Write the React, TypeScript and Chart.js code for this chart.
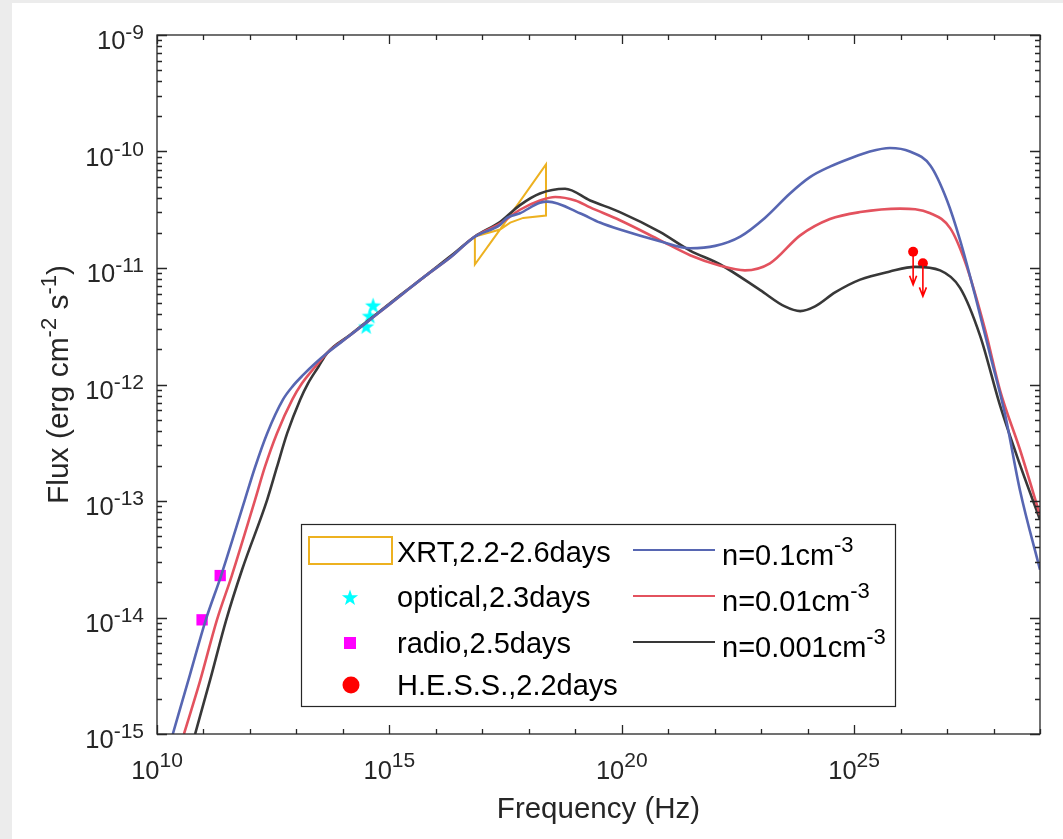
import React, { useEffect, useRef } from 'react';
import { Chart, registerables } from 'chart.js';
Chart.register(...registerables);

// ---- data (log10 values) ----
const blueLogNu = [10.34, 10.71, 11.05, 11.38, 11.89, 12.11, 12.37, 12.71, 12.93, 13.14, 13.40, 13.66, 14.15, 14.69, 15.23, 15.77, 16.31, 16.84, 17.38, 17.53, 17.81, 18.24, 18.41, 19.10, 19.53, 19.96, 20.82, 21.47, 22.01, 22.55, 23.08, 23.62, 24.05, 24.48, 24.91, 25.34, 25.77, 26.20, 26.64, 27.00, 27.28, 27.60, 27.93, 28.25, 28.57, 29.0];
const blueLogF = [-15.0, -14.49, -14.02, -13.64, -12.99, -12.71, -12.42, -12.13, -12.01, -11.92, -11.82, -11.73, -11.58, -11.41, -11.24, -11.07, -10.91, -10.73, -10.63, -10.57, -10.53, -10.44, -10.43, -10.53, -10.61, -10.67, -10.77, -10.83, -10.81, -10.73, -10.57, -10.36, -10.22, -10.13, -10.06, -10.0, -9.97, -10.0, -10.12, -10.42, -10.76, -11.23, -11.75, -12.26, -12.91, -13.59];

const redLogNu = [10.58, 10.93, 11.29, 11.61, 12.11, 12.32, 12.58, 12.91, 13.12, 13.40, 13.66, 14.15, 14.69, 15.23, 15.77, 16.31, 16.84, 17.38, 17.81, 18.24, 18.57, 19.0, 19.32, 19.96, 20.82, 21.47, 22.12, 22.65, 23.19, 23.84, 24.48, 25.13, 25.99, 26.64, 27.07, 27.39, 27.82, 28.14, 28.57, 29.0];
const redLogF = [-15.0, -14.54, -14.02, -13.64, -12.99, -12.71, -12.42, -12.13, -11.99, -11.85, -11.73, -11.58, -11.41, -11.24, -11.07, -10.91, -10.73, -10.62, -10.50, -10.42, -10.39, -10.42, -10.48, -10.59, -10.76, -10.89, -10.98, -11.02, -10.96, -10.72, -10.58, -10.52, -10.49, -10.53, -10.66, -10.95, -11.53, -12.05, -12.56, -13.12];

const blackLogNu = [10.82, 11.14, 11.49, 11.83, 12.37, 12.58, 12.80, 13.08, 13.25, 13.47, 13.66, 14.15, 14.69, 15.23, 15.77, 16.31, 16.84, 17.38, 17.81, 18.24, 18.78, 19.32, 19.96, 20.82, 21.47, 22.12, 22.98, 23.51, 23.84, 24.16, 24.59, 25.13, 25.77, 26.31, 26.85, 27.28, 27.71, 28.14, 28.57, 29.0];
const blackLogF = [-15.0, -14.54, -14.02, -13.59, -12.99, -12.71, -12.42, -12.13, -11.99, -11.85, -11.73, -11.575, -11.405, -11.235, -11.07, -10.90, -10.73, -10.605, -10.46, -10.36, -10.32, -10.42, -10.52, -10.69, -10.85, -10.97, -11.19, -11.33, -11.37, -11.33, -11.21, -11.10, -11.03, -10.99, -11.02, -11.17, -11.58, -12.18, -12.69, -13.16];

// XRT butterfly outline (closed polygon)
const xrtLogNu = [16.84, 17.38, 18.37, 18.37, 17.88, 17.60, 17.38, 16.84, 16.84];
const xrtLogF = [-10.73, -10.67, -10.11, -10.55, -10.57, -10.61, -10.67, -10.97, -10.73];

const opticalLogNu = [14.65, 14.58, 14.50];
const opticalLogF = [-11.32, -11.41, -11.50];

const radioLogNu = [10.97, 11.36];
const radioLogF = [-14.02, -13.64];

const hessLogNu = [26.27, 26.48];
const hessLogF = [-10.86, -10.96];

const xTickExps = [10, 15, 20, 25];
const yTickExps = [-9, -10, -11, -12, -13, -14, -15];
const xRange = [10, 29];
const yRange = [-15, -9];

const curveLabels = ['n=0.1cm', 'n=0.01cm', 'n=0.001cm'];
const curveExp = '-3';
const pointLabels = ['XRT,2.2-2.6days', 'optical,2.3days', 'radio,2.5days', 'H.E.S.S.,2.2days'];
const xTitle = 'Frequency (Hz)';

// ---- styles ----
const FONT = '"Liberation Sans", Arial, Helvetica, sans-serif';
const BLUE = '#5766b2';
const RED = '#e3525e';
const BLACK = '#383838';
const ORANGE = '#edb120';
const CYAN = '#00ffff';
const MAGENTA = '#ff00ff';
const HESSRED = '#ff0000';
const AXIS = '#262626';

const toPts = (nu: number[], f: number[]) => nu.map((v, i) => ({ x: Math.pow(10, v), y: Math.pow(10, f[i]) }));

function starPath(ctx: CanvasRenderingContext2D, cx: number, cy: number, R: number) {
  const r = R * 0.4;
  ctx.beginPath();
  for (let i = 0; i < 10; i++) {
    const rad = i % 2 === 0 ? R : r;
    const a = -Math.PI / 2 + (i * Math.PI) / 5;
    const px = cx + rad * Math.cos(a);
    const py = cy + rad * Math.sin(a);
    if (i === 0) ctx.moveTo(px, py);
    else ctx.lineTo(px, py);
  }
  ctx.closePath();
}

function makeStar(R: number, color: string) {
  const c = document.createElement('canvas');
  const s = Math.ceil(R * 2 + 2);
  c.width = s;
  c.height = s;
  const g = c.getContext('2d')!;
  starPath(g, s / 2, s / 2 + R * 0.1, R);
  g.fillStyle = color;
  g.fill();
  return c;
}

function drawPow(ctx: CanvasRenderingContext2D, base: string, exp: string, x: number, y: number, align: 'left' | 'center' | 'right', bs: number, es: number, raise: number) {
  ctx.font = `${bs}px ${FONT}`;
  const bw = ctx.measureText(base).width;
  ctx.font = `${es}px ${FONT}`;
  const ew = ctx.measureText(exp).width;
  const total = bw + ew;
  const left = align === 'center' ? x - total / 2 : align === 'right' ? x - total : x;
  ctx.textAlign = 'left';
  ctx.textBaseline = 'alphabetic';
  ctx.font = `${bs}px ${FONT}`;
  ctx.fillText(base, left, y);
  ctx.font = `${es}px ${FONT}`;
  ctx.fillText(exp, left + bw, y - raise);
}

const decorPlugin = {
  id: 'decor',
  beforeDraw(chart: any) {
    const ctx: CanvasRenderingContext2D = chart.ctx;
    ctx.save();
    ctx.fillStyle = '#ececec';
    ctx.fillRect(0, 0, chart.width, chart.height);
    ctx.fillStyle = '#ffffff';
    ctx.fillRect(12, 3, chart.width - 12, chart.height - 3);
    ctx.restore();
  },
  afterDatasetsDraw(chart: any) {
    const ctx: CanvasRenderingContext2D = chart.ctx;
    const xs = chart.scales.x;
    const ys = chart.scales.y;
    // H.E.S.S. upper-limit arrows
    ctx.save();
    ctx.strokeStyle = HESSRED;
    ctx.lineWidth = 1.6;
    hessLogNu.forEach((v, i) => {
      const px = xs.getPixelForValue(Math.pow(10, v));
      const py = ys.getPixelForValue(Math.pow(10, hessLogF[i]));
      const tip = py + 33;
      ctx.beginPath();
      ctx.moveTo(px, py);
      ctx.lineTo(px, tip);
      ctx.moveTo(px - 3.5, tip - 9);
      ctx.lineTo(px, tip);
      ctx.lineTo(px + 3.5, tip - 9);
      ctx.stroke();
    });
    ctx.restore();
  },
  afterDraw(chart: any) {
    const ctx: CanvasRenderingContext2D = chart.ctx;
    const a = chart.chartArea;
    const xs = chart.scales.x;
    const ys = chart.scales.y;
    ctx.save();
    // axes box
    ctx.strokeStyle = AXIS;
    ctx.lineWidth = 1.3;
    ctx.strokeRect(a.left, a.top, a.right - a.left, a.bottom - a.top);
    ctx.beginPath();
    for (let e = xRange[0]; e <= xRange[1]; e++) {
      const px = Math.round(xs.getPixelForValue(Math.pow(10, e))) + 0.5;
      const len = e % 5 === 0 ? 9 : 5;
      ctx.moveTo(px, a.bottom);
      ctx.lineTo(px, a.bottom - len);
      ctx.moveTo(px, a.top);
      ctx.lineTo(px, a.top + len);
    }
    for (let e = yRange[0]; e <= yRange[1]; e++) {
      for (let k = 1; k <= 9; k++) {
        if (e === yRange[1] && k > 1) break;
        const py = Math.round(ys.getPixelForValue(k * Math.pow(10, e))) + 0.5;
        const len = k === 1 ? 10 : 5;
        ctx.moveTo(a.left, py);
        ctx.lineTo(a.left + len, py);
        ctx.moveTo(a.right, py);
        ctx.lineTo(a.right - len, py);
      }
    }
    ctx.stroke();

    // tick labels
    ctx.fillStyle = '#262626';
    xTickExps.forEach((e) => {
      const px = xs.getPixelForValue(Math.pow(10, e));
      drawPow(ctx, '10', String(e), px, a.bottom + 45, 'center', 25.5, 21, 12);
    });
    yTickExps.forEach((e) => {
      const py = ys.getPixelForValue(Math.pow(10, e));
      drawPow(ctx, '10', String(e), a.left - 13, py + 14, 'right', 25.5, 21, 10);
    });

    // axis titles
    ctx.font = `29.5px ${FONT}`;
    ctx.textAlign = 'center';
    ctx.textBaseline = 'alphabetic';
    ctx.fillText(xTitle, (a.left + a.right) / 2, 818);

    const segs: [string, boolean][] = [['Flux (erg cm', false], ['-2', true], [' s', false], ['-1', true], [')', false]];
    const bs = 30, es = 22;
    let total = 0;
    const widths = segs.map(([t, sup]) => {
      ctx.font = `${sup ? es : bs}px ${FONT}`;
      const w = ctx.measureText(t).width;
      total += w;
      return w;
    });
    ctx.save();
    ctx.translate(68, (a.top + a.bottom) / 2);
    ctx.rotate(-Math.PI / 2);
    ctx.textAlign = 'left';
    let cx = -total / 2;
    segs.forEach(([t, sup], i) => {
      ctx.font = `${sup ? es : bs}px ${FONT}`;
      ctx.fillText(t, cx, sup ? -12 : 0);
      cx += widths[i];
    });
    ctx.restore();

    // legend
    const L = { x1: 301, y1: 524, x2: 895, y2: 706 };
    ctx.fillStyle = '#ffffff';
    ctx.fillRect(L.x1, L.y1, L.x2 - L.x1, L.y2 - L.y1);
    ctx.strokeStyle = AXIS;
    ctx.lineWidth = 1.2;
    ctx.strokeRect(L.x1 + 0.5, L.y1 + 0.5, L.x2 - L.x1, L.y2 - L.y1);

    // col 1 icons
    ctx.strokeStyle = ORANGE;
    ctx.lineWidth = 2;
    ctx.strokeRect(309, 537, 83, 27);
    starPath(ctx, 350, 598, 8.5);
    ctx.fillStyle = CYAN;
    ctx.fill();
    ctx.fillStyle = MAGENTA;
    ctx.fillRect(344, 637, 12, 12);
    ctx.fillStyle = HESSRED;
    ctx.beginPath();
    ctx.arc(351, 685, 8.5, 0, Math.PI * 2);
    ctx.fill();

    ctx.fillStyle = '#000000';
    ctx.font = `29px ${FONT}`;
    ctx.textAlign = 'left';
    const col1Base = [562, 607, 653, 695];
    pointLabels.forEach((t, i) => ctx.fillText(t, 397, col1Base[i]));

    // col 2
    const colColors = [BLUE, RED, BLACK];
    const lineY = [550, 596, 642];
    const col2Base = [565, 611, 657];
    colColors.forEach((c, i) => {
      ctx.strokeStyle = c;
      ctx.lineWidth = 2;
      ctx.beginPath();
      ctx.moveTo(633, lineY[i]);
      ctx.lineTo(715, lineY[i]);
      ctx.stroke();
      ctx.fillStyle = '#000000';
      drawPow(ctx, curveLabels[i], curveExp, 722, col2Base[i], 'left', 29, 22, 13);
    });
    ctx.restore();
  },
};

export default function App() {
  const ref = useRef<HTMLCanvasElement>(null);
  useEffect(() => {
    document.body.style.margin = '0';
    const starImg = makeStar(8.5, CYAN);
    const lineDs = (label: string, nu: number[], f: number[], color: string) => ({
      label,
      data: toPts(nu, f),
      showLine: true,
      borderColor: color,
      borderWidth: 2.6,
      pointRadius: 0,
      cubicInterpolationMode: 'monotone' as const,
    });
    const chart = new Chart(ref.current!, {
      type: 'scatter',
      data: {
        datasets: [
          lineDs(curveLabels[0], blueLogNu, blueLogF, BLUE),
          lineDs(curveLabels[1], redLogNu, redLogF, RED),
          lineDs(curveLabels[2], blackLogNu, blackLogF, BLACK),
          {
            label: pointLabels[0],
            data: toPts(xrtLogNu, xrtLogF),
            showLine: true,
            borderColor: ORANGE,
            borderWidth: 2,
            pointRadius: 0,
            tension: 0,
          },
          {
            label: pointLabels[1],
            data: toPts(opticalLogNu, opticalLogF),
            pointStyle: starImg as any,
            pointRadius: 8,
            backgroundColor: CYAN,
          },
          {
            label: pointLabels[2],
            data: toPts(radioLogNu, radioLogF),
            pointStyle: 'rect',
            pointRadius: 8,
            backgroundColor: MAGENTA,
            borderWidth: 0,
          },
          {
            label: pointLabels[3],
            data: toPts(hessLogNu, hessLogF),
            pointStyle: 'circle',
            pointRadius: 5,
            backgroundColor: HESSRED,
            borderWidth: 0,
          },
        ],
      },
      options: {
        animation: false,
        responsive: false,
        devicePixelRatio: 1,
        layout: { padding: { left: 157, top: 35, right: 23, bottom: 105 } },
        plugins: { legend: { display: false }, tooltip: { enabled: false }, title: { display: false } },
        events: [],
        scales: {
          x: { type: 'logarithmic', min: Math.pow(10, xRange[0]), max: Math.pow(10, xRange[1]), display: false },
          y: { type: 'logarithmic', min: Math.pow(10, yRange[0]), max: Math.pow(10, yRange[1]), display: false },
        },
      },
      plugins: [decorPlugin],
    });
    return () => chart.destroy();
  }, []);
  return (
    <div style={{ position: 'fixed', left: 0, top: 0, width: 1063, height: 839 }}>
      <canvas ref={ref} width={1063} height={839} style={{ display: 'block', width: 1063, height: 839 }} />
    </div>
  );
}
